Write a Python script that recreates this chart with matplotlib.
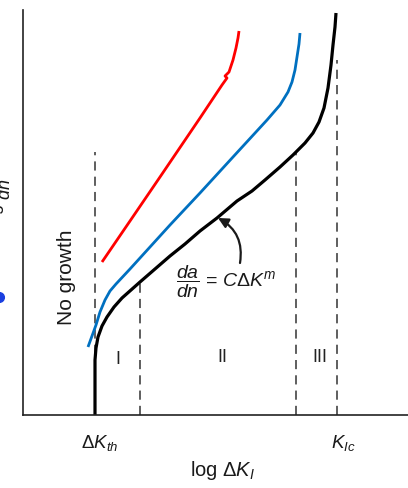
import matplotlib
matplotlib.use("Agg")
import matplotlib.pyplot as plt
from matplotlib.patches import FancyArrowPatch

plt.rcParams['font.family'] = ['Liberation Sans', 'DejaVu Sans']
plt.rcParams['mathtext.fontset'] = 'custom'
plt.rcParams['mathtext.rm'] = 'Liberation Sans'
plt.rcParams['mathtext.it'] = 'Liberation Sans:italic'
plt.rcParams['mathtext.bf'] = 'Liberation Sans:bold'

# ---- data (chart units: x = log dK, y = log da/dn, arbitrary) ----
black_x = [72, 72, 72, 73, 75, 79, 84, 91, 99, 108, 117, 132, 147, 162, 177, 194,
           214, 229, 242, 257, 270, 282, 290, 296, 301, 305, 308, 310, 312, 313]
black_y = [0, 30, 55, 67, 78, 89, 98, 108, 117, 125, 133, 146, 159, 171, 184, 197,
           214, 224, 235, 248, 260, 272, 282, 293, 307, 327, 350, 370, 388, 402]

blue_x = [65, 69, 73, 77, 82, 87, 93, 107, 127, 147, 177, 210, 244, 257, 265, 269,
          272, 274, 276, 277]
blue_y = [68, 79, 90, 103, 115, 124, 131, 146, 168, 190, 222, 258, 295, 310, 323, 333,
          345, 358, 371, 382]

red_x = [79, 107, 137, 177, 199, 204, 202, 206, 210, 213, 215, 216]
red_y = [153, 194, 238, 297, 330, 337, 339, 343, 355, 367, 377, 384]

dash_x = [72, 117, 273, 314]
dash_top = [263, 132, 262, 355]

region_labels = ["I", "II", "III"]
region_x = [95, 199, 297]
region_y = [55, 58, 58]

tick_labels = [r"$\Delta K_{th}$", r"$K_{Ic}$"]
tick_x = [77, 320]

fig = plt.figure(figsize=(4.08, 4.88), dpi=100)
ax = fig.add_axes([23/408, 73/488, 385/408, 405/488])
ax.set_xlim(0, 385)
ax.set_ylim(0, 405)
ax.set_xticks([])
ax.set_yticks([])
for s in ['top', 'right']:
    ax.spines[s].set_visible(False)
for s in ['left', 'bottom']:
    ax.spines[s].set_linewidth(1.2)
    ax.spines[s].set_color('#222222')

for x, t in zip(dash_x, dash_top):
    ax.plot([x, x], [0, t], color='#333333', lw=1.1, ls=(0, (6, 4)))

ax.plot(red_x, red_y, color='#ff0000', lw=2.0, solid_capstyle='butt')
ax.plot(blue_x, blue_y, color='#0070c0', lw=2.0, solid_capstyle='butt')
ax.plot(black_x, black_y, color='black', lw=2.3, solid_capstyle='butt')

for lab, x, y in zip(region_labels, region_x, region_y):
    ax.text(x, y, lab, ha='center', va='center', fontsize=13, color='#222222')

ax.text(44, 138, "No growth", rotation=90, ha='center', va='center',
        fontsize=15, color='#1a1a1a')

ax.text(203, 133, r"$\dfrac{da}{dn}$ = $C\Delta K^m$", ha='center', va='center',
        fontsize=14, color='#1a1a1a')

arr = FancyArrowPatch((217, 152), (195, 197), connectionstyle="arc3,rad=0.35",
                      arrowstyle='-|>,head_length=6,head_width=3', color='#1a1a1a',
                      lw=1.6, shrinkA=0, shrinkB=0)
ax.add_patch(arr)

for lab, x in zip(tick_labels, tick_x):
    ax.text(x, -28, lab, ha='center', va='center', fontsize=13.5, color='#1a1a1a',
            clip_on=False)

ax.text(200, -55, r"log $\Delta K_I$", ha='center', va='center', fontsize=14.5,
        color='#1a1a1a', clip_on=False)

ax.text(-28, 237, r"log $\dfrac{da}{dn}$", rotation=90, rotation_mode='anchor',
        ha='right', va='center', fontsize=13, color='#1a1a1a', clip_on=False)

ax.plot([-24], [118], 'o', color='#1a3fe0', ms=7, clip_on=False)

fig.savefig("out.png", dpi=100)
